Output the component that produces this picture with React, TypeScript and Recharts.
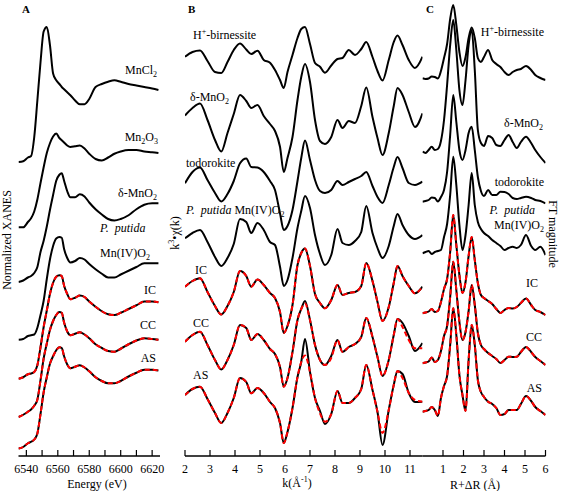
import React from 'react';
import { LineChart, Line, XAxis, YAxis } from 'recharts';

// ---------- Panel A: Mn K-edge XANES (normalized, stacked) ----------
const energyEv = [6535, 6538, 6541, 6543, 6545, 6547, 6549, 6551, 6553, 6555, 6557, 6559, 6561, 6562.5, 6564, 6566, 6568, 6571, 6574, 6577, 6580, 6584, 6588, 6592, 6596, 6600, 6605, 6610, 6615, 6620, 6624];
const xanesMnCl2 = [0, 0.01, 0.06, 0.08, 0.33, 0.82, 1.33, 1.74, 1.8, 1.56, 1.18, 1.09, 1.04, 1.0, 0.97, 0.93, 0.89, 0.82, 0.77, 0.77, 0.84, 1.0, 1.04, 1.07, 1.09, 1.07, 1.04, 1.02, 1.0, 0.98, 0.96];
const xanesMn2O3 = [0, 0, 0.07, 0.12, 0.21, 0.37, 0.59, 0.8, 0.99, 1.12, 1.21, 1.25, 1.19, 1.16, 1.13, 1.09, 1.07, 1.08, 1.09, 1.05, 0.98, 0.91, 0.89, 0.93, 0.98, 1.01, 1.03, 1.03, 1.01, 1.0, 0.99];
const xanesDeltaMnO2 = [0, 0.02, 0.06, 0.08, 0.12, 0.2, 0.4, 0.55, 0.74, 0.96, 1.16, 1.35, 1.43, 1.45, 1.35, 1.21, 1.13, 1.13, 1.17, 1.14, 1.06, 0.97, 0.9, 0.84, 0.82, 0.84, 0.89, 0.97, 1.03, 1.05, 1.05];
const xanesPutida = [0, 0.01, 0.05, 0.06, 0.07, 0.16, 0.33, 0.52, 0.81, 1.07, 1.25, 1.35, 1.37, 1.36, 1.21, 1.09, 1.03, 1.05, 1.09, 1.07, 1.01, 0.94, 0.88, 0.83, 0.83, 0.87, 0.92, 0.97, 1.02, 1.02, 1.02];
const xanesIC = [0, 0.02, 0.06, 0.07, 0.09, 0.18, 0.42, 0.69, 0.91, 1.13, 1.28, 1.36, 1.38, 1.37, 1.24, 1.13, 1.06, 1.08, 1.11, 1.09, 1.03, 0.96, 0.9, 0.86, 0.85, 0.88, 0.93, 0.98, 1.03, 1.03, 1.02];
const xanesCC = [0, 0.03, 0.07, 0.1, 0.15, 0.23, 0.49, 0.78, 0.98, 1.16, 1.28, 1.36, 1.4, 1.39, 1.26, 1.14, 1.09, 1.11, 1.13, 1.1, 1.05, 0.97, 0.92, 0.88, 0.87, 0.91, 0.97, 1.02, 1.05, 1.04, 1.03];
const xanesAS = [0, 0.02, 0.07, 0.09, 0.12, 0.2, 0.46, 0.75, 0.95, 1.13, 1.23, 1.31, 1.35, 1.34, 1.23, 1.12, 1.07, 1.09, 1.11, 1.08, 1.03, 0.95, 0.9, 0.87, 0.87, 0.9, 0.96, 1.01, 1.05, 1.05, 1.04];
const xanesOffsets = [3.92, 3.05, 2.32, 1.55, 1.03, 0.52, 0.1];
const energyTicks = [6540, 6550, 6560, 6570, 6580, 6590, 6600, 6610, 6620];

// ---------- Panel B: k3-weighted EXAFS ----------
const kGrid = [2.0, 2.3, 2.6, 2.9, 3.2, 3.45, 3.7, 3.95, 4.2, 4.45, 4.65, 4.9, 5.15, 5.4, 5.6, 5.8, 5.95, 6.1, 6.3, 6.5, 6.65, 6.8, 7.0, 7.2, 7.4, 7.6, 7.85, 8.1, 8.3, 8.55, 8.8, 9.05, 9.25, 9.5, 9.7, 9.9, 10.15, 10.35, 10.5, 10.7, 10.95, 11.2, 11.5];
const chiHBirnessite = [0.53, 1.0, 1.15, 0.1, -1.0, -1.1, 0, 1.2, 1.85, 1.25, 0.8, 1.13, 0.2, -0.07, -0.8, -1.8, -2.6, -1.0, 0.7, 2.4, 3.3, 3.5, 1.8, -0.1, -0.47, -1.07, -0.35, 0.3, 0.4, 1.2, 0.7, 1.3, 2.0, 0.5, -0.9, -1.85, 0.2, 2.0, 2.65, 1.7, 0.2, -0.6, 0.53];
const chiDeltaMnO2 = [0.95, 1.7, 2.15, 0.5, -1.5, -2.65, -0.8, 1.1, 3.0, 2.4, 1.7, 2.0, 0.9, 0.1, -0.6, -2.17, -4.7, -3.3, -1.2, 2.5, 4.8, 6.1, 4.3, 0.5, -1.6, -1.9, -1.2, 0.5, -0.3, 0.4, 0.2, 1.9, 3.75, 0.8, -1.3, -3.0, -0.8, 1.9, 3.7, 3.0, 1.3, -0.2, 1.17];
const chiTodorokite = [-0.03, 1.1, 1.55, 0.3, -1.0, -1.85, -1.1, 0.2, 1.97, 2.45, 1.6, 1.55, 1.1, 0.2, -0.7, -3.03, -4.7, -4.3, -2.7, 0.2, 2.5, 4.25, 2.3, 0.3, -0.8, -1.0, -0.7, 0.2, -0.2, 0.1, 0.4, 0.7, 1.1, -0.3, -1.4, -2.0, -0.2, 1.6, 2.6, 1.5, 0, -0.2, 0.13];
const chiPutida = [0.37, 0.9, 1.2, 0, -1.5, -2.4, -1.6, -0.2, 2.3, 2.0, 0.9, 1.9, 1.2, 0, -0.3, -2.47, -4.4, -3.8, -1.6, 1.4, 3.1, 4.6, 3.4, 0.7, -1.2, -2.3, -1.3, 1.3, -0.1, -0.3, 0.1, 1.0, 3.6, 0.9, -0.6, -1.6, -0.4, 1.6, 2.8, 1.7, 0.7, 0.3, 0.7];
const chiIC = [0.83, 1.4, 1.67, 0.3, -1.1, -1.95, -1.1, 0.3, 2.4, 1.9, 0.83, 1.55, 1.0, 0.2, -0.3, -1.7, -3.8, -3.1, -1.0, 3.0, 4.2, 4.65, 2.9, 0.1, -0.8, -1.33, -0.5, 1.0, 0, 0.2, 0.3, 0.9, 3.2, 1.4, -0.7, -2.6, -1.2, 1.2, 2.9, 1.9, 0.9, 0.17, 0.83];
const chiCC = [0.33, 1.0, 1.33, 0, -1.5, -2.45, -1.5, 0, 2.0, 1.7, 0.5, 1.1, 0.5, -0.4, -0.9, -2.2, -4.17, -3.3, -0.7, 2.5, 3.6, 4.4, 2.5, 0, -1.5, -2.0, -1.1, 0.5, -0.7, -0.2, 0.1, 0.8, 2.7, 0.8, -1.2, -3.1, -1.5, 1.0, 2.6, 2.2, 0.9, -0.6, 0.2];
const chiCCFit = [0.33, 1.0, 1.33, 0, -1.5, -2.45, -1.5, 0, 2.0, 1.7, 0.5, 1.1, 0.5, -0.4, -0.9, -2.2, -4.17, -3.3, -0.7, 2.5, 3.6, 4.15, 2.5, 0, -1.5, -2.0, -1.3, 0.5, -0.7, -0.2, 0.1, 0.8, 2.7, 0.8, -1.2, -3.1, -1.5, 1.0, 2.6, 1.8, 0.5, -0.33, -0.33];
const chiAS = [0.7, 1.3, 1.53, 0.3, -1.1, -2.1, -1.1, 0.4, 2.4, 2.0, 0.87, 1.4, 0.9, 0, -0.6, -2.1, -4.1, -3.0, -0.6, 2.5, 4.0, 6.3, 3.0, 0.4, -0.9, -2.2, -1.2, 1.1, -0.1, -0.1, 0.4, 1.3, 3.7, 1.2, -1.0, -4.3, -0.8, 1.7, 3.1, 2.8, 0.9, 0.0, 0.03];
const chiASFit = [0.7, 1.3, 1.53, 0.3, -1.1, -2.1, -1.1, 0.4, 2.4, 2.0, 0.87, 1.4, 0.9, 0, -0.6, -2.1, -4.1, -3.0, -0.6, 2.5, 4.0, 4.65, 3.0, 0.4, -1.13, -1.97, -1.2, 1.1, -0.1, -0.1, 0.4, 1.3, 3.7, 1.2, -1.0, -3.1, -0.8, 1.7, 3.1, 2.4, 0.9, 0.2, 0.03];
const chiOffsets = [39.4, 33.1, 27.3, 21.4, 16.1, 11.1, 5.4];
const kTicks = [2, 3, 4, 5, 6, 7, 8, 9, 10, 11];

// ---------- Panel C: Fourier transform magnitude ----------
const rGrid = [0, 0.15, 0.3, 0.45, 0.6, 0.75, 0.9, 1.05, 1.2, 1.35, 1.5, 1.65, 1.8, 1.95, 2.1, 2.25, 2.4, 2.55, 2.7, 2.85, 3.0, 3.2, 3.4, 3.6, 3.8, 4.0, 4.2, 4.4, 4.6, 4.8, 5.05, 5.3, 5.5, 5.75, 6.0];
const ftHBirnessite = [0.17, 0.1, 0.15, 0.35, 0.3, 0.15, 0.9, 2.2, 3.6, 6.1, 7.5, 5.5, 2.8, 1.4, 2.3, 4.2, 5.25, 4.2, 2.2, 1.8, 2.3, 3.0, 2.0, 1.6, 1.3, 0.8, 0.5, 0.8, 1.0, 1.1, 1.4, 1.0, 0.5, 0.2, 0.0];
const ftDeltaMnO2 = [0.13, 0, 0.3, 0.63, 0.3, 0.4, 1.2, 3.3, 6.8, 10.8, 13.3, 10.3, 6.3, 4.8, 7.3, 10.8, 12.3, 8.3, 2.3, 1.0, 0.7, 1.7, 1.5, 0.8, 0.7, 1.3, 1.8, 1.1, 0.5, 1.1, 1.63, 1.0, 0.3, -0.4, -1.0];
const ftTodorokite = [0.13, 0.2, 0.3, 0.55, 0.5, 0.15, 0.6, 1.3, 3.1, 6.8, 10.8, 8.1, 5.3, 4.3, 5.3, 7.0, 7.63, 5.3, 2.6, 1.2, 0.7, 1.3, 0.8, 0.8, 1.13, 1.1, 0.9, 0.5, 0.4, 0.5, 0.63, 0.5, 0.3, 0.2, -0.03];
const ftPutida = [0.27, 0.4, 0.5, 0.2, 0.4, 0.5, 0.6, 1.9, 3.2, 6.1, 9.93, 7.1, 3.1, 0.6, 2.1, 5.1, 8.3, 5.1, 3.4, 2.7, 2.3, 2.0, 1.6, 1.3, 1.0, 0.6, 0.8, 0.93, 0.8, 1.1, 2.1, 1.0, 0.6, 0.93, 0.1];
const ftIC = [-0.03, 0.05, 0.15, 0.4, 0.1, 0.2, 1.1, 2.4, 3.4, 6.1, 9.8, 6.8, 3.8, 2.0, 3.1, 5.7, 7.6, 5.3, 3.0, 1.8, 1.5, 1.2, 0.9, 0.4, 0, 0.3, 0.5, 0.45, 0.6, 1.0, 1.45, 0.8, 0.3, 0.1, -0.2];
const ftCC = [-0.03, 0.05, 0.15, 0.55, 0.1, 0.3, 1.2, 2.7, 3.7, 6.6, 10.13, 7.3, 4.1, 2.3, 3.1, 5.2, 7.8, 5.8, 3.0, 1.8, 1.4, 1.0, 0.7, 0.4, 0, 0.3, 0.63, 0.6, 0.63, 1.1, 1.6, 1.1, 0.6, 0.2, -0.2];
const ftAS = [-0.07, 0, 0.1, 0.4, 0.1, -0.5, 1.3, 2.5, 3.5, 6.6, 10.27, 7.6, 3.6, 1.6, 0, 5.1, 8.6, 6.6, 3.1, 1.9, 1.4, 0.93, 0.7, 0.3, -0.4, -0.3, 0.1, 0.1, 0.1, 0.7, 1.5, 1.0, 0.4, 0, -0.4];
const ftOffsets = [37.6, 30.3, 25.3, 20.0, 14.3, 9.3, 4.5];
const rTicks = [1, 2, 3, 4, 5, 6];

interface Curve {
  values: number[];
  offset: number;
  fit?: number[];
}

const FONT = '"Liberation Serif", "Times New Roman", serif';
const AXIS = { stroke: '#000', strokeWidth: 1.3 };

function buildRows(xs: number[], curves: Curve[]) {
  return xs.map((x, i) => {
    const row: Record<string, number> = { x };
    curves.forEach((c, j) => {
      row[`s${j}`] = c.offset + c.values[i];
      if (c.fit) row[`f${j}`] = c.offset + c.fit[i];
    });
    return row;
  });
}

// inward tick marks (bottom axis, with optional label)
const bottomTick = (p: any, showLabel: (v: number) => boolean) => (
  <g>
    <line x1={p.x} x2={p.x} y1={p.y} y2={p.y - 6} stroke="#000" strokeWidth={1.2} />
    {showLabel(p.payload.value) && (
      <text x={p.x} y={p.y + 16.5} textAnchor="middle" fontSize={12} fontFamily={FONT} fill="#000">
        {p.payload.value}
      </text>
    )}
  </g>
);
const topTick = (p: any) => <line x1={p.x} x2={p.x} y1={p.y} y2={p.y + 6} stroke="#000" strokeWidth={1.2} />;
const leftTick = (p: any) => <line x1={p.x} x2={p.x + 5} y1={p.y} y2={p.y} stroke="#000" strokeWidth={1.2} />;
const rightTick = (p: any) => <line x1={p.x} x2={p.x - 5} y1={p.y} y2={p.y} stroke="#000" strokeWidth={1.2} />;

interface PanelProps {
  left: number;
  width: number;
  mLeft: number;
  mRight: number;
  xs: number[];
  domain: [number, number];
  ticks: number[];
  showLabel: (v: number) => boolean;
  yMax: number;
  curves: Curve[];
  leftTicks?: number[];
  rightTicks?: number[];
}

function Panel({ left, width, mLeft, mRight, xs, domain, ticks, showLabel, yMax, curves, leftTicks, rightTicks }: PanelProps) {
  const rows = buildRows(xs, curves);
  return (
    <div style={{ position: 'absolute', left, top: 0 }}>
      <LineChart width={width} height={491} data={rows} margin={{ top: 1, right: mRight, bottom: 0, left: mLeft }}>
        <XAxis
          xAxisId="b"
          dataKey="x"
          type="number"
          domain={domain}
          ticks={ticks}
          interval={0}
          height={35}
          allowDataOverflow
          axisLine={AXIS}
          tickLine={false}
          tickSize={0}
          tickMargin={0}
          tick={(p: any) => bottomTick(p, showLabel)}
        />
        <XAxis
          xAxisId="t"
          orientation="top"
          dataKey="x"
          type="number"
          domain={domain}
          ticks={ticks}
          interval={0}
          height={0}
          allowDataOverflow
          axisLine={AXIS}
          tickLine={false}
          tickSize={0}
          tickMargin={0}
          tick={topTick}
        />
        <YAxis
          yAxisId="l"
          type="number"
          domain={[0, yMax]}
          width={0}
          allowDataOverflow
          axisLine={AXIS}
          tickLine={false}
          tickSize={0}
          tickMargin={0}
          ticks={leftTicks}
          interval={0}
          tick={leftTicks ? leftTick : false}
        />
        <YAxis
          yAxisId="r"
          orientation="right"
          type="number"
          domain={[0, yMax]}
          width={0}
          allowDataOverflow
          axisLine={AXIS}
          tickLine={false}
          tickSize={0}
          tickMargin={0}
          ticks={rightTicks}
          interval={0}
          tick={rightTicks ? rightTick : false}
        />
        {curves.map((c, j) => (
          <Line
            key={`s${j}`}
            xAxisId="b"
            yAxisId="l"
            dataKey={`s${j}`}
            type="monotone"
            stroke="#000"
            strokeWidth={2}
            dot={false}
            activeDot={false}
            isAnimationActive={false}
          />
        ))}
        {curves.map((c, j) =>
          c.fit ? (
            <Line
              key={`f${j}`}
              xAxisId="b"
              yAxisId="l"
              dataKey={`f${j}`}
              type="monotone"
              stroke="#ff0000"
              strokeWidth={2}
              strokeDasharray="5 3"
              dot={false}
              activeDot={false}
              isAnimationActive={false}
            />
          ) : null
        )}
      </LineChart>
    </div>
  );
}

const Sub = ({ children }: { children: React.ReactNode }) => (
  <span style={{ fontSize: 8, position: 'relative', top: 3 }}>{children}</span>
);
const Sup = ({ children }: { children: React.ReactNode }) => (
  <span style={{ fontSize: 8, position: 'relative', top: -5 }}>{children}</span>
);

// text label placed by its baseline; end = right-aligned at x
const Lbl = ({ x, y, end, italic, children }: { x: number; y: number; end?: boolean; italic?: boolean; children: React.ReactNode }) => (
  <div
    style={{
      position: 'absolute',
      top: y - 10,
      ...(end ? { right: 567 - x } : { left: x }),
      fontSize: 12,
      lineHeight: '12px',
      whiteSpace: 'nowrap',
      fontStyle: italic ? 'italic' : 'normal',
    }}
  >
    {children}
  </div>
);

const Title = ({ x, y, rotate = 0, children }: { x: number; y: number; rotate?: number; children: React.ReactNode }) => (
  <div
    style={{
      position: 'absolute',
      left: x,
      top: y,
      transform: `translate(-50%, -50%) rotate(${rotate}deg)`,
      fontSize: 12,
      lineHeight: '12px',
      whiteSpace: 'nowrap',
    }}
  >
    {children}
  </div>
);

const Letter = ({ x, children }: { x: number; children: React.ReactNode }) => (
  <div style={{ position: 'absolute', left: x, top: 4, fontSize: 11, lineHeight: '11px', fontWeight: 'bold' }}>{children}</div>
);

export default function App() {
  const xanesCurves: Curve[] = [
    { values: xanesMnCl2, offset: xanesOffsets[0] },
    { values: xanesMn2O3, offset: xanesOffsets[1] },
    { values: xanesDeltaMnO2, offset: xanesOffsets[2] },
    { values: xanesPutida, offset: xanesOffsets[3] },
    { values: xanesIC, offset: xanesOffsets[4], fit: xanesIC },
    { values: xanesCC, offset: xanesOffsets[5], fit: xanesCC },
    { values: xanesAS, offset: xanesOffsets[6], fit: xanesAS },
  ];
  const chiCurves: Curve[] = [
    { values: chiHBirnessite, offset: chiOffsets[0] },
    { values: chiDeltaMnO2, offset: chiOffsets[1] },
    { values: chiTodorokite, offset: chiOffsets[2] },
    { values: chiPutida, offset: chiOffsets[3] },
    { values: chiIC, offset: chiOffsets[4], fit: chiIC },
    { values: chiCC, offset: chiOffsets[5], fit: chiCCFit },
    { values: chiAS, offset: chiOffsets[6], fit: chiASFit },
  ];
  const ftCurves: Curve[] = [
    { values: ftHBirnessite, offset: ftOffsets[0] },
    { values: ftDeltaMnO2, offset: ftOffsets[1] },
    { values: ftTodorokite, offset: ftOffsets[2] },
    { values: ftPutida, offset: ftOffsets[3] },
    { values: ftIC, offset: ftOffsets[4], fit: ftIC },
    { values: ftCC, offset: ftOffsets[5], fit: ftCC },
    { values: ftAS, offset: ftOffsets[6], fit: ftAS },
  ];

  return (
    <div
      style={{
        position: 'absolute',
        left: 0,
        top: 0,
        width: 567,
        height: 491,
        background: '#fff',
        color: '#000',
        fontFamily: FONT,
        overflow: 'hidden',
      }}
    >
      <Panel
        left={0}
        width={175}
        mLeft={18.5}
        mRight={15}
        xs={energyEv}
        domain={[6535, 6625]}
        ticks={energyTicks}
        showLabel={(v) => v % 20 === 0}
        yMax={455 / 75}
        curves={xanesCurves}
      />
      <Panel
        left={170}
        width={265}
        mLeft={15}
        mRight={12.5}
        xs={kGrid}
        domain={[2, 11.5]}
        ticks={kTicks}
        showLabel={() => true}
        yMax={45.5}
        curves={chiCurves}
        rightTicks={chiOffsets}
      />
      <Panel
        left={410}
        width={157}
        mLeft={12.5}
        mRight={21.5}
        xs={rGrid}
        domain={[0, 6]}
        ticks={rTicks}
        showLabel={() => true}
        yMax={45.5}
        curves={ftCurves}
        leftTicks={ftOffsets}
      />

      <Letter x={22}>A</Letter>
      <Letter x={188}>B</Letter>
      <Letter x={426}>C</Letter>

      {/* Panel A labels */}
      <Lbl x={157} y={74} end>MnCl<Sub>2</Sub></Lbl>
      <Lbl x={158} y={141} end>Mn<Sub>2</Sub>O<Sub>3</Sub></Lbl>
      <Lbl x={157} y={197} end>δ-MnO<Sub>2</Sub></Lbl>
      <Lbl x={100} y={232} italic>P.&nbsp; putida</Lbl>
      <Lbl x={100} y={257}>Mn(IV)O<Sub>2</Sub></Lbl>
      <Lbl x={156} y={294} end>IC</Lbl>
      <Lbl x={156} y={329} end>CC</Lbl>
      <Lbl x={156} y={362} end>AS</Lbl>

      {/* Panel B labels */}
      <Lbl x={193} y={39}>H<Sup>+</Sup>-birnessite</Lbl>
      <Lbl x={190} y={101}>δ-MnO<Sub>2</Sub></Lbl>
      <Lbl x={186} y={167}>todorokite</Lbl>
      <Lbl x={186} y={214}><i>P.&nbsp; putida</i> Mn(IV)O<Sub>2</Sub></Lbl>
      <Lbl x={195} y={274}>IC</Lbl>
      <Lbl x={193} y={327}>CC</Lbl>
      <Lbl x={193} y={379}>AS</Lbl>

      {/* Panel C labels */}
      <Lbl x={544} y={36} end>H<Sup>+</Sup>-birnessite</Lbl>
      <Lbl x={543} y={127} end>δ-MnO<Sub>2</Sub></Lbl>
      <Lbl x={544} y={186} end>todorokite</Lbl>
      <Lbl x={535} y={214} end italic>P.&nbsp; putida</Lbl>
      <Lbl x={544} y={229} end>Mn(IV)O<Sub>2</Sub></Lbl>
      <Lbl x={538} y={287} end>IC</Lbl>
      <Lbl x={542} y={341} end>CC</Lbl>
      <Lbl x={542} y={392} end>AS</Lbl>

      {/* axis titles */}
      <Title x={97} y={484}>Energy (eV)</Title>
      <Title x={297} y={484}>k(Å<Sup>-1</Sup>)</Title>
      <Title x={475} y={485}>R+ΔR (Å)</Title>
      <Title x={7} y={240} rotate={-90}>Normalized XANES</Title>
      <Title x={176} y={233} rotate={-90}>k<Sup>3</Sup>•χ(k)</Title>
      <Title x={553} y={234} rotate={90}>FT magnitude</Title>
    </div>
  );
}
